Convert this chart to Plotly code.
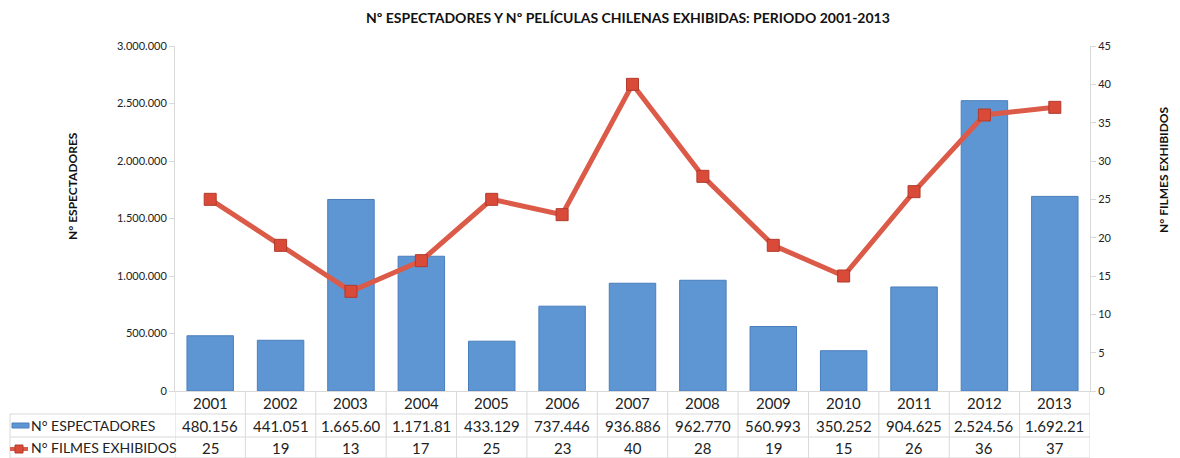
import plotly.graph_objects as go

years = ['2001', '2002', '2003', '2004', '2005', '2006', '2007',
         '2008', '2009', '2010', '2011', '2012', '2013']
espectadores = [480156, 441051, 1665600, 1171810, 433129, 737446, 936886,
                962770, 560993, 350252, 904625, 2524560, 1692210]
espectadores_txt = ['480.156', '441.051', '1.665.60', '1.171.81', '433.129', '737.446',
                    '936.886', '962.770', '560.993', '350.252', '904.625', '2.524.56', '1.692.21']
filmes = [25, 19, 13, 17, 25, 23, 40, 28, 19, 15, 26, 36, 37]

font = 'Lato, "Open Sans", sans-serif'
grid = '#d9d9d9'

fig = go.Figure()
fig.add_trace(go.Bar(
    x=years, y=espectadores, width=0.66,
    marker=dict(color='#5e95d3', line=dict(color='#4a7ebb', width=1)),
    name='N° ESPECTADORES'))
fig.add_trace(go.Scatter(
    x=years, y=filmes, yaxis='y2', mode='lines+markers',
    line=dict(color='#dc5a48', width=5),
    marker=dict(symbol='square', size=12, color='#d94a39', line=dict(color='#b23a2b', width=1)),
    name='N° FILMES EXHIBIDOS'))

# table geometry in paper units (plot area is 915 x 345 px)
ph = 345.0
pw = 915.0
r1 = -23 / ph
r2 = -46 / ph
r3 = -67 / ph
xl = -165 / pw

shapes = []
n = len(years)
for i in range(n + 1):
    shapes.append(dict(type='line', xref='x', yref='paper', x0=i - 0.5, x1=i - 0.5,
                       y0=0, y1=r3, line=dict(color=grid, width=1)))
for y in (r1, r2, r3):
    shapes.append(dict(type='line', xref='paper', yref='paper', x0=xl, x1=1,
                       y0=y, y1=y, line=dict(color=grid, width=1)))
shapes.append(dict(type='line', xref='paper', yref='paper', x0=xl, x1=xl,
                   y0=r1, y1=r3, line=dict(color=grid, width=1)))
# legend keys
shapes.append(dict(type='rect', xref='paper', yref='paper',
                   x0=-163 / pw, x1=-146 / pw, y0=-32 / ph, y1=-37 / ph,
                   fillcolor='#5e95d3', line=dict(color='#4a7ebb', width=1)))
shapes.append(dict(type='line', xref='paper', yref='paper',
                   x0=-165 / pw, x1=-147 / pw, y0=-58 / ph, y1=-58 / ph,
                   line=dict(color='#dc5a48', width=4)))
shapes.append(dict(type='rect', xref='paper', yref='paper',
                   x0=-160 / pw, x1=-152 / pw, y0=-54 / ph, y1=-62 / ph,
                   fillcolor='#d94a39', line=dict(color='#b23a2b', width=1)))

ann = []
tf = dict(family=font, size=15, color='#222')
lf = dict(family=font, size=14, color='#222')
for i, yr in enumerate(years):
    ann.append(dict(x=i, y=(0 + r1) / 2, xref='x', yref='paper', text=yr,
                    xanchor='center', yanchor='middle', showarrow=False, font=tf))
    ann.append(dict(x=i, y=(r1 + r2) / 2, xref='x', yref='paper', text=espectadores_txt[i],
                    xanchor='center', yanchor='middle', showarrow=False, font=tf))
    ann.append(dict(x=i, y=(r2 + r3) / 2, xref='x', yref='paper', text=str(filmes[i]),
                    xanchor='center', yanchor='middle', showarrow=False, font=tf))
ann.append(dict(x=-146 / pw, y=(r1 + r2) / 2, xref='paper', yref='paper', xanchor='left',
                yanchor='middle', text='N° ESPECTADORES', showarrow=False, font=lf))
ann.append(dict(x=-146 / pw, y=(r2 + r3) / 2, xref='paper', yref='paper', xanchor='left',
                yanchor='middle', text='N° FILMES EXHIBIDOS', showarrow=False, font=lf))
# axis titles
ann.append(dict(x=-103 / pw, y=(391 - 186) / ph, xref='paper', yref='paper',
                xanchor='center', yanchor='middle', textangle=-90, showarrow=False,
                text='<b>N° ESPECTADORES</b>', font=dict(family=font, size=12, color='#111')))
ann.append(dict(x=988 / pw, y=(391 - 170) / ph, xref='paper', yref='paper',
                xanchor='center', yanchor='middle', textangle=-90, showarrow=False,
                text='<b>N° FILMES EXHIBIDOS</b>', font=dict(family=font, size=12, color='#111')))

# the page body adds an 8 px margin, so the figure is 8 px smaller and shifted
fig.update_layout(
    width=1172, height=450,
    margin=dict(l=167, r=90, t=38, b=67),
    plot_bgcolor='white', paper_bgcolor='white',
    separators=',.',
    showlegend=False,
    title=dict(text='<b>Nº ESPECTADORES Y Nº PELÍCULAS CHILENAS EXHIBIDAS: PERIODO 2001-2013</b>',
               xref='paper', x=0.495, xanchor='center', y=0.978, yanchor='middle',
               font=dict(family=font, size=14, color='#111')),
    font=dict(family=font, size=11, color='#222'),
    xaxis=dict(showticklabels=False, showline=True, linecolor=grid, ticks='',
               range=[-0.5, n - 0.5], automargin=False),
    yaxis=dict(range=[0, 3000000], dtick=500000, tickformat=',d', showgrid=False,
               showline=True, linecolor=grid, ticks='outside', ticklen=5, tickcolor=grid,
               zeroline=False, automargin=False),
    yaxis2=dict(range=[0, 45], dtick=5, overlaying='y', side='right', showgrid=False,
                showline=True, linecolor=grid, ticks='outside', ticklen=5, tickcolor=grid,
                zeroline=False, automargin=False),
    shapes=shapes, annotations=ann,
)

fig.write_html('out.html')
